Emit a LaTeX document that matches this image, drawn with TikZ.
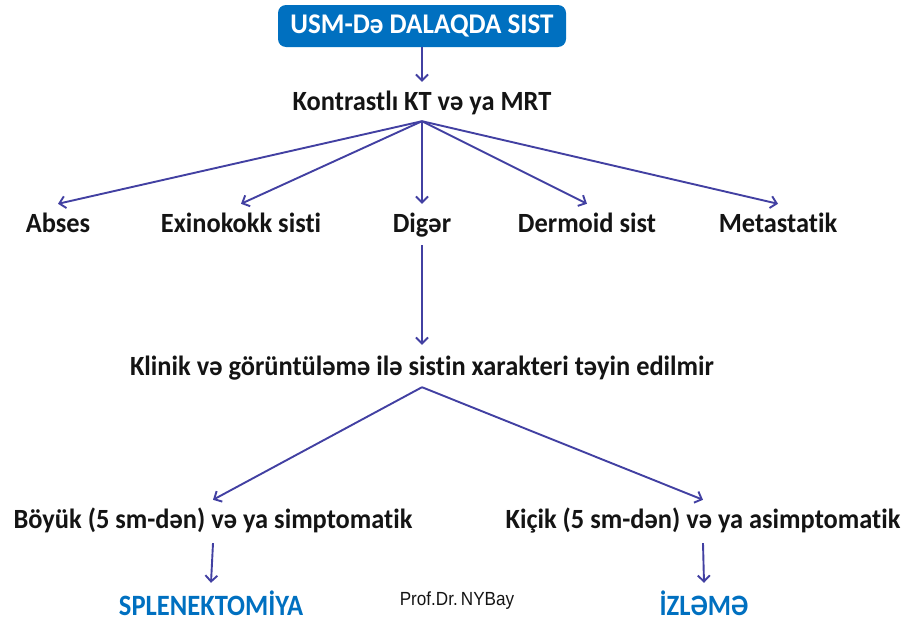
\documentclass[tikz,border=0pt]{standalone}
\usepackage{fontspec}
\setmainfont{Carlito}[Ligatures=NoCommon, FakeStretch=0.95]
\newfontfamily\outfont{Carlito}[FakeStretch=0.9]
\newfontfamily\signfont[FakeStretch=0.9]{Liberation Sans}
\usepackage{xcolor}
\usepackage{tikz}
\usetikzlibrary{positioning,arrows.meta}
\definecolor{cyink}{HTML}{141414}
\definecolor{cyblue}{HTML}{0070C0}
\definecolor{cyarrow}{HTML}{4240A2}

\begin{document}
\begin{tikzpicture}[x=1pt, y=-1pt,
  font=\fontsize{27.8}{30}\selectfont\bfseries,
  label/.style={inner sep=0pt, text=cyink, anchor=base,
    text height=17pt, text depth=5pt},
  head/.style={fill=cyblue, rounded corners=8pt, text=white,
    font=\fontsize{28.5}{30}\selectfont\bfseries,
    minimum width=288pt, minimum height=42pt},
  outcome/.style={label, text=cyblue, font=\outfont\fontsize{29.5}{32}\selectfont\bfseries},
  flow/.style={draw=cyarrow, line width=1.9pt,
    -{Straight Barb[length=6pt, width=12pt]}},
  ]
  \useasboundingbox (0,0) rectangle (907,621);
  % top box and first step
  \node[head] (top) at (422,26) {USM-Də DALAQDA SIST};
  \node[label] (kt) at (422,110) {Kontrastlı KT və ya MRT};
  \draw[flow] (top.south) -- ([yshift=11pt]kt.north);
  % fan of five findings
  \node[label] (abs) at (58,232) {Abses};
  \node[label] (exi) at (241,232) {Exinokokk sisti};
  \node[label] (dig) at (422,232) {Digər};
  \node[label] (der) at (587,232) {Dermoid sist};
  \node[label] (met) at (778,232) {Metastatik};
  \coordinate (fan) at ([yshift=-6pt]kt.south);
  \foreach \n in {abs,exi,dig,der,met}
    \draw[flow] (fan) -- ([yshift=11pt]\n.north);
  % undetermined character
  \node[label] (kli) at (422,375) {Klinik və görüntüləmə ilə sistin xarakteri təyin edilmir};
  \draw[flow] ([yshift=-8pt]dig.south) -- ([yshift=13pt]kli.north);
  \node[label] (big) at (213,528) {Böyük (5 sm-dən) və ya simptomatik};
  \node[label] (sml) at (703,528) {Kiçik (5 sm-dən) və ya asimptomatik};
  \coordinate (split) at ([yshift=-7pt]kli.south);
  \draw[flow] (split) -- ([yshift=11pt]big.north);
  \draw[flow] (split) -- ([yshift=11pt]sml.north);
  % outcomes
  \node[outcome] (spl) at (211,615) {SPLENEKTOMİYA};
  \node[outcome] (izl) at (704,615) {İZLƏMƏ};
  \draw[flow] ([yshift=-10pt]big.south) -- ([yshift=15pt]spl.north);
  \draw[flow] ([yshift=-10pt]sml.south) -- ([yshift=15pt]izl.north);
  \node[font=\signfont\fontsize{19}{21}\selectfont, text=cyink, anchor=base] (sig) at (457,605) {Prof.Dr.\,NYBay};
\end{tikzpicture}
\end{document}
